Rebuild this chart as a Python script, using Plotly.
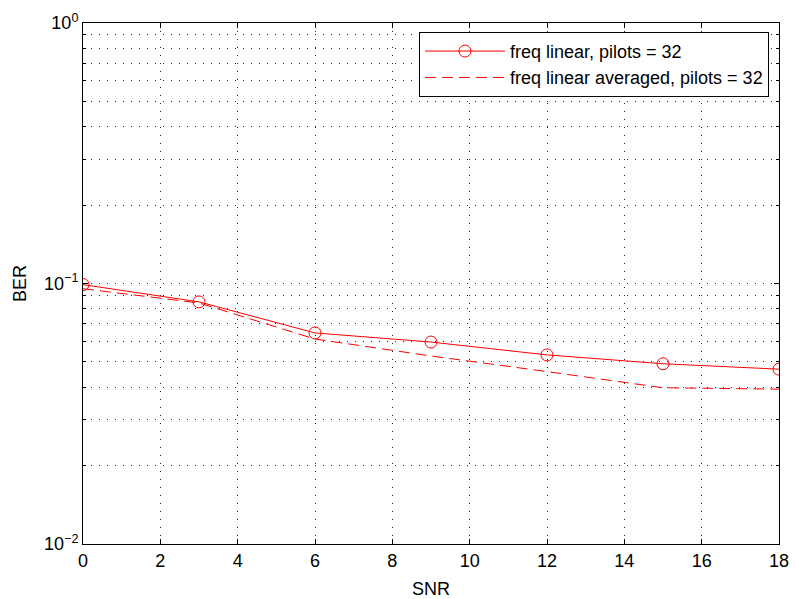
import plotly.graph_objects as go

snr = [0, 3, 6, 9, 12, 15, 18]
ber_linear = [0.099, 0.085, 0.0646, 0.0596, 0.0532, 0.0492, 0.0469]
ber_avg = [0.0955, 0.0842, 0.0612, 0.0527, 0.0459, 0.0398, 0.0393]

name1 = "freq linear, pilots = 32"
name2 = "freq linear averaged, pilots = 32"

xticks = [0, 2, 4, 6, 8, 10, 12, 14, 16, 18]
yticks = [0.01, 0.1, 1]
yticktext = ["10<sup>−2</sup>", "10<sup>−1</sup>", "10<sup>0</sup>"]
yminor = [m * d for d in (0.01, 0.1) for m in range(2, 10)]

fig = go.Figure()
fig.add_trace(go.Scatter(x=snr, y=ber_linear, mode="lines+markers", name=name1,
                         line=dict(color="red", width=1),
                         marker=dict(symbol="circle-open", size=12, color="red", line=dict(width=1))))
fig.add_trace(go.Scatter(x=snr, y=ber_avg, mode="lines", name=name2,
                         line=dict(color="red", width=1, dash="11px,6px")))

fam = "Liberation Sans, Arial, sans-serif"
font = dict(family=fam, size=18, color="black")
grid = dict(showgrid=True, gridcolor="#222", griddash="1px,7px", gridwidth=1)
fig.update_layout(
    width=795, height=599,
    margin=dict(l=83, r=16, t=23, b=55),
    paper_bgcolor="white", plot_bgcolor="white",
    font=font,
    showlegend=True,
    legend=dict(x=0.9856, y=0.983, xanchor="right", yanchor="top",
                bordercolor="black", borderwidth=1, bgcolor="white",
                font=dict(family=fam, size=18),
                tracegroupgap=0, itemwidth=80),
)
fig.update_xaxes(
    range=[0, 18], tickvals=xticks, ticks="inside", ticklen=5, tickcolor="black",
    showline=True, linecolor="black", linewidth=1, mirror="allticks",
    zeroline=False, **grid, tickfont=dict(size=18), automargin=False,
    title=dict(text="SNR", standoff=12, font=dict(size=18)),
)
fig.update_yaxes(
    type="log", range=[-2, 0], tickvals=yticks, ticktext=yticktext,
    ticks="inside", ticklen=5, tickcolor="black",
    showline=True, linecolor="black", linewidth=1, mirror="allticks",
    zeroline=False, **grid, tickfont=dict(size=18), automargin=False,
    minor=dict(tickvals=yminor, ticks="inside", ticklen=3, tickcolor="black", **grid),
    title=dict(text="BER", standoff=12, font=dict(size=18)),
)
fig.write_html("out.html")
